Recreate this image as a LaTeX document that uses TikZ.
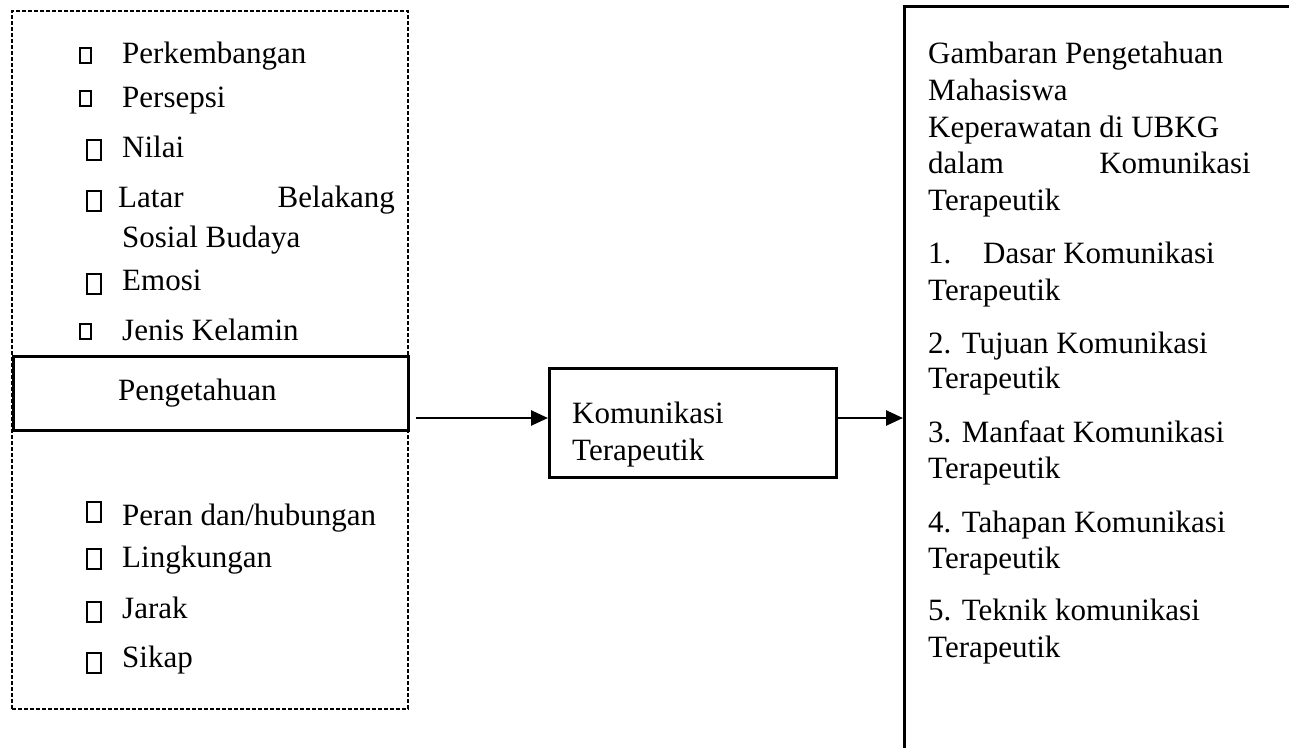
\documentclass[tikz,border=0pt]{standalone}
\usepackage{fontspec}
\setmainfont{Liberation Serif}
\usetikzlibrary{arrows.meta}
\begin{document}
\begin{tikzpicture}[x=1pt,y=-1pt,
  txt/.style={anchor=base west,inner sep=0pt,font=\fontsize{31}{36}\selectfont},
  txte/.style={txt,anchor=base east},
  dashbox/.style={draw,dash pattern=on 4pt off 2pt,line width=1.6pt,inner sep=0pt,anchor=north west},
  solidbox/.style={draw,fill=white,line width=2.6pt,inner sep=0pt,anchor=north west},
  bigbox/.style={draw,line width=3pt,inner sep=0pt,anchor=north west},
  sbul/.style={draw,line width=1.6pt,inner sep=0pt,minimum width=11pt,minimum height=15pt,anchor=south west},
  lbul/.style={draw,line width=1.8pt,inner sep=0pt,minimum width=14pt,minimum height=20pt,anchor=south west},
  arr/.style={line width=2.6pt,-{Triangle[length=17pt,width=15pt]}}]
\useasboundingbox (0,0) rectangle (1289,747);
\clip (0,0) rectangle (1289,747);

% left dashed box
\node[dashbox,minimum width=396pt,minimum height=698pt] (lbox) at (11,10) {};
\node[solidbox,minimum width=395pt,minimum height=74pt] (pen) at (12,355) {};
\node[txt] (pent) at (118,400) {Pengetahuan};

% left items
\node[sbul] (b1) at (79,64) {};
\node[txt] (t1) at (122,63) {Perkembangan};
\node[sbul] (b2) at (79,107) {};
\node[txt] (t2) at (122,107) {Persepsi};
\node[lbul] (b3) at (86,161) {};
\node[txt] (t3) at (122,157) {Nilai};
\node[lbul] (b4) at (86,212) {};
\node[txt] (t4a) at (118,207) {Latar};
\node[txte] (t4b) at (395,207) {Belakang};
\node[txt] (t4c) at (122,247) {Sosial Budaya};
\node[lbul] (b5) at (86,295) {};
\node[txt] (t5) at (122,290) {Emosi};
\node[sbul] (b6) at (79,340) {};
\node[txt] (t6) at (122,340) {Jenis Kelamin};

\node[lbul] (b7) at (86,523) {};
\node[txt] (t7) at (122,525) {Peran dan/hubungan};
\node[lbul] (b8) at (86,570) {};
\node[txt] (t8) at (122,567) {Lingkungan};
\node[lbul] (b9) at (86,623) {};
\node[txt] (t9) at (122,618) {Jarak};
\node[lbul] (b10) at (86,674) {};
\node[txt] (t10) at (122,667) {Sikap};

% middle box
\node[bigbox,minimum width=287pt,minimum height=109pt] (kom) at (548,367) {};
\node[txt] (komt1) at (572,423) {Komunikasi};
\node[txt] (komt2) at (572,460) {Terapeutik};

% right box (runs off the page)
\node[bigbox,minimum width=500pt,minimum height=800pt] (rb) at (903,5) {};
\node[txt] (r1) at (928,63) {Gambaran Pengetahuan};
\node[txt] (r2) at (928,100) {Mahasiswa};
\node[txt] (r3) at (928,137) {Keperawatan di UBKG};
\node[txt] (r4a) at (928,173) {dalam};
\node[txte] (r4b) at (1251,173) {Komunikasi};
\node[txt] (r5) at (928,210) {Terapeutik};
\node[txt] (r6a) at (928,263) {1.};
\node[txt] (r6b) at (983,263) {Dasar Komunikasi};
\node[txt] (r7) at (928,300) {Terapeutik};
\node[txt] (r8) at (928,353) {2. Tujuan Komunikasi};
\node[txt] (r9) at (928,388) {Terapeutik};
\node[txt] (r10) at (928,442) {3. Manfaat Komunikasi};
\node[txt] (r11) at (928,478) {Terapeutik};
\node[txt] (r12) at (928,532) {4. Tahapan Komunikasi};
\node[txt] (r13) at (928,568) {Terapeutik};
\node[txt] (r14) at (928,620) {5. Teknik komunikasi};
\node[txt] (r15) at (928,657) {Terapeutik};

% arrows
\draw[arr,shorten <=6pt] ([yshift=5pt]kom.west -| pen.east) -- ([yshift=5pt]kom.west);
\draw[arr] ([yshift=5pt]kom.east) -- ([yshift=5pt]kom.east -| rb.west);
\end{tikzpicture}
\end{document}
